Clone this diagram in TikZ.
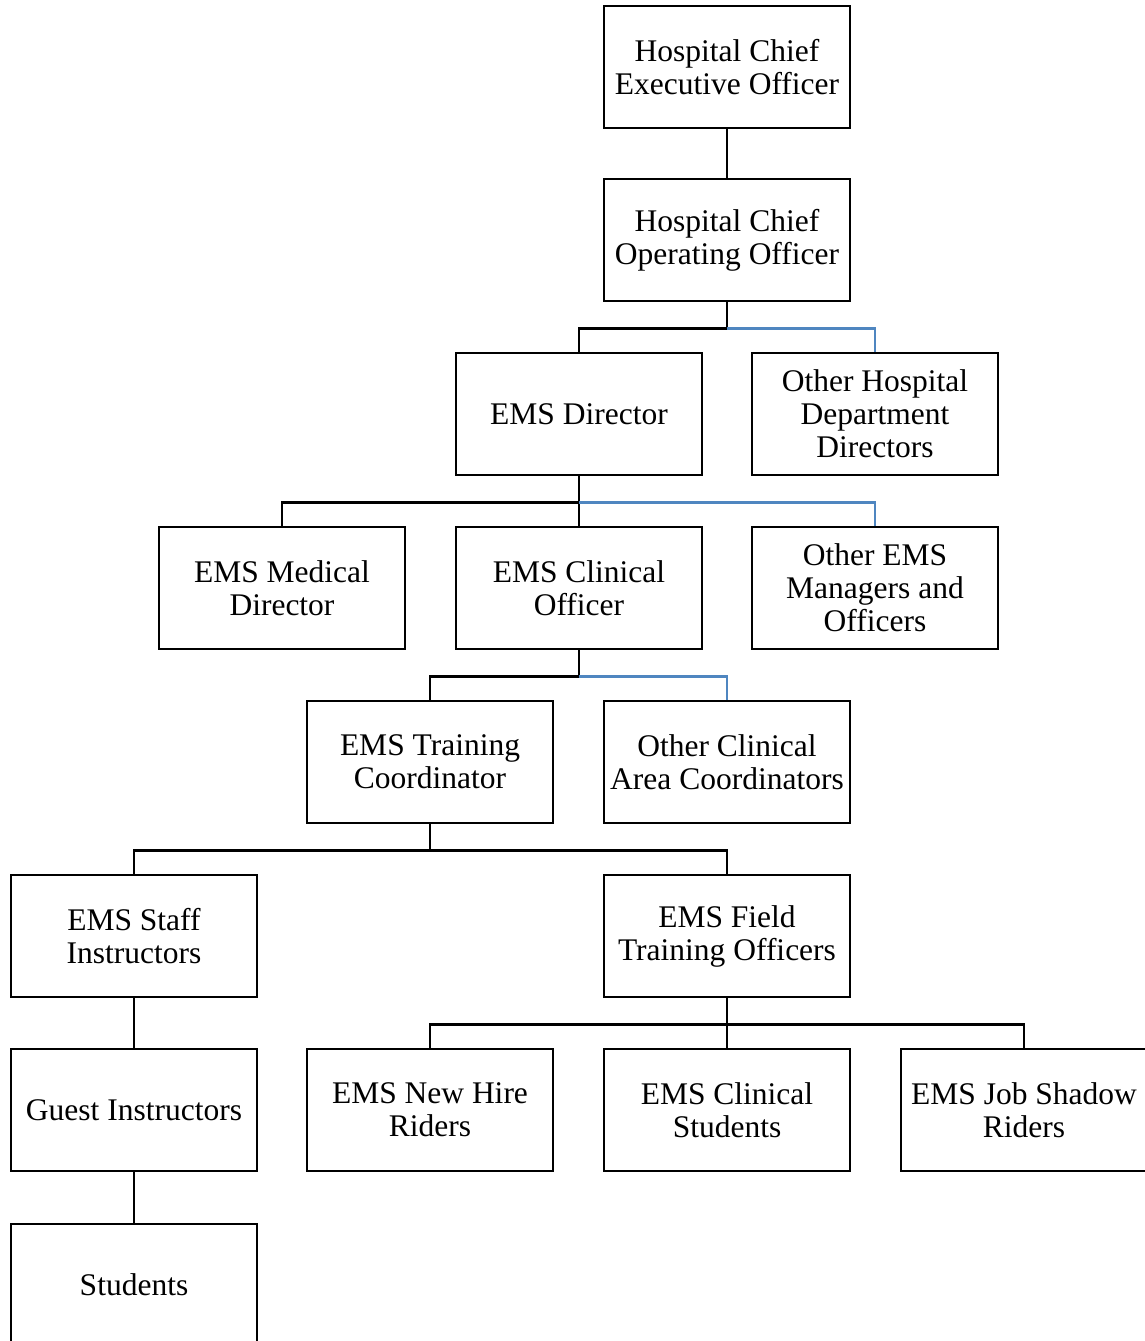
\documentclass[tikz,border=0pt]{standalone}
\usepackage{fontspec}
\setmainfont{Liberation Serif}
\usepackage{tikz}
\definecolor{otherblue}{RGB}{79,134,192}

\tikzset{
	unit/.style={shape=rectangle,draw=black,line width=2.4pt,minimum width=246pt,minimum height=122pt,align=center,inner sep=2pt,font=\fontsize{31.5}{33}\selectfont},
	tree/.style={-,line width=2.6pt,draw=black},
	side/.style={-,line width=2.6pt,draw=otherblue}
}

\begin{document}
\begin{tikzpicture}[x=1pt,y=-1pt]
	\useasboundingbox (0,0) rectangle (1144,1341);

	\node[unit] (ceo) at (727, 67)    {Hospital Chief\\Executive Officer};
	\node[unit] (coo) at (727, 240)   {Hospital Chief\\Operating Officer};
	\node[unit] (dir) at (579, 414)   {EMS Director};
	\node[unit] (ohd) at (875, 414)   {Other Hospital\\Department\\Directors};
	\node[unit] (med) at (282, 588)   {EMS Medical\\Director};
	\node[unit] (clo) at (579, 588)   {EMS Clinical\\Officer};
	\node[unit] (oem) at (875, 588)   {Other EMS\\Managers and\\Officers};
	\node[unit] (trc) at (430, 762)   {EMS Training\\Coordinator};
	\node[unit] (oca) at (727, 762)   {Other Clinical\\Area Coordinators};
	\node[unit] (sti) at (134, 936)   {EMS Staff\\Instructors};
	\node[unit] (fto) at (727, 936)   {EMS Field\\Training Officers};
	\node[unit] (gui) at (134, 1110)  {Guest Instructors};
	\node[unit] (nhr) at (430, 1110)  {EMS New Hire\\Riders};
	\node[unit] (cls) at (727, 1110)  {EMS Clinical\\Students};
	\node[unit] (jsr) at (1024, 1110) {EMS Job Shadow\\Riders};
	\node[unit] (stu) at (134, 1285)  {Students};

	\path[tree] (ceo) edge (coo);
	\draw[tree] (coo.south) -- +(0,26) -| (dir.north);
	\draw[side] (coo.south) ++(0,26) -| (ohd.north);

	\draw[tree] (dir.south) -- +(0,26) -| (med.north);
	\draw[tree] (dir.south) -- (clo.north);
	\draw[side] (dir.south) ++(0,26) -| (oem.north);

	\draw[tree] (clo.south) -- +(0,26) -| (trc.north);
	\draw[side] (clo.south) ++(0,26) -| (oca.north);

	\draw[tree] (trc.south) -- +(0,26) -| (sti.north);
	\draw[tree] (trc.south) ++(0,26) -| (fto.north);

	\path[tree] (sti) edge (gui);
	\path[tree] (gui) edge (stu);

	\draw[tree] (fto.south) -- +(0,26) -| (nhr.north);
	\draw[tree] (fto.south) -- (cls.north);
	\draw[tree] (fto.south) ++(0,26) -| (jsr.north);
\end{tikzpicture}
\end{document}
